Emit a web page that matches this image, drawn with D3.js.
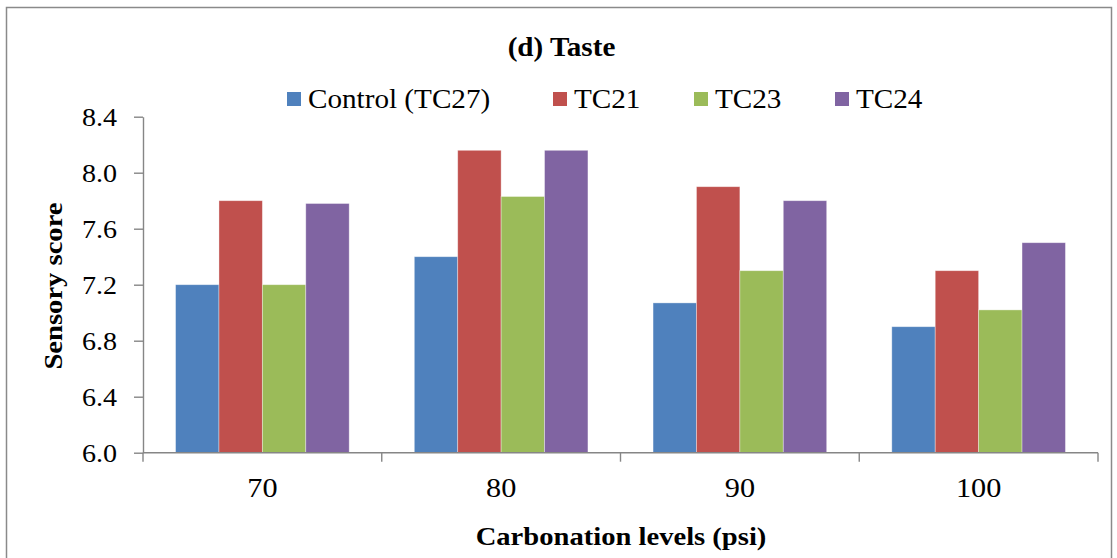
<!DOCTYPE html>
<html>
<head>
<meta charset="utf-8">
<script src="https://cdn.jsdelivr.net/npm/d3@7"></script>
<style>
  html, body { margin: 0; padding: 0; background: #ffffff; }
  svg { display: block; }
</style>
</head>
<body>
<svg id="chart" width="1117" height="558"></svg>
<script>
// Sensory taste scores at each carbonation level
const categories = ["70", "80", "90", "100"];
const seriesNames = ["Control (TC27)", "TC21", "TC23", "TC24"];
const control = [7.20, 7.40, 7.07, 6.90];
const tc21 = [7.80, 8.16, 7.90, 7.30];
const tc23 = [7.20, 7.83, 7.30, 7.02];
const tc24 = [7.78, 8.16, 7.80, 7.50];
const yTicks = [6.0, 6.4, 6.8, 7.2, 7.6, 8.0, 8.4];
const colors = ["#4F81BD", "#C0504D", "#9BBB59", "#8064A2"];

const seriesValues = [control, tc21, tc23, tc24];
const rows = categories.map((c, i) => ({
  cat: c,
  vals: seriesNames.map((s, j) => ({ series: s, value: seriesValues[j][i], color: colors[j] }))
}));

const FONT = '"Liberation Serif"';
const SX_REG = 1.08;        // horizontal glyph stretch, regular text
const SX_BOLD = 1.1;        // horizontal glyph stretch, bold titles
const axisColor = "#868686";
const svg = d3.select("#chart");

// outer frame
svg.append("rect")
  .attr("x", 6.5).attr("y", 7.5)
  .attr("width", 1105).attr("height", 570)
  .attr("fill", "none").attr("stroke", "#8a8a8a").attr("stroke-width", 1.5);

const plot = { left: 143, right: 1098, top: 116.7, bottom: 452.7 };

const x = d3.scaleBand().domain(categories).range([plot.left, plot.right]).padding(0);
const xInner = d3.scaleBand().domain(seriesNames).range([0, x.bandwidth()])
  .paddingInner(0).paddingOuter(0.75);
const y = d3.scaleLinear().domain([6.0, 8.4]).range([plot.bottom, plot.top]);

function stretchedText(parent, tx, ty, str, opts) {
  const sx = opts.bold ? SX_BOLD : SX_REG;
  const g = parent.append("g").attr("transform", `translate(${tx},${ty})`);
  return g.append("text")
    .attr("transform", (opts.rotate ? `rotate(${opts.rotate}) ` : "") + `scale(${sx},1)`)
    .attr("text-anchor", opts.anchor || "middle")
    .attr("fill", "#000")
    .style("font-family", FONT)
    .style("font-size", opts.size + "px")
    .style("font-weight", opts.bold ? "bold" : "normal")
    .text(str);
}

// bars
const groups = svg.append("g").selectAll("g.grp")
  .data(rows).join("g")
  .attr("class", "grp")
  .attr("transform", d => `translate(${x(d.cat)},0)`);

groups.selectAll("rect")
  .data(d => d.vals).join("rect")
  .attr("x", d => xInner(d.series))
  .attr("width", xInner.bandwidth())
  .attr("y", d => y(d.value))
  .attr("height", d => y(6.0) - y(d.value))
  .attr("fill", d => d.color)
  .attr("stroke", "rgba(255,255,255,0.45)")
  .attr("stroke-width", 0.8);

// y axis
const yAxis = svg.append("g")
  .attr("transform", `translate(${plot.left},0)`)
  .call(d3.axisLeft(y).tickValues(yTicks).tickFormat(d3.format(".1f")).tickSize(9).tickSizeOuter(0));
yAxis.select(".domain").attr("stroke", axisColor).attr("stroke-width", 1.4);
yAxis.selectAll(".tick line").attr("stroke", axisColor).attr("stroke-width", 1.4);
yAxis.selectAll(".tick text")
  .attr("x", 0).attr("y", 0).attr("dy", null)
  .attr("transform", `translate(-26,9) scale(${SX_REG},1)`)
  .style("font-size", "26px")
  .style("font-family", FONT)
  .attr("fill", "#000");

// x axis: ticks on the category boundaries, labels at the centres
const xAxisG = svg.append("g").attr("transform", `translate(0,${plot.bottom})`);
xAxisG.append("line")
  .attr("x1", plot.left).attr("x2", plot.right)
  .attr("stroke", axisColor).attr("stroke-width", 1.4);
const boundaries = categories.map(c => x(c)).concat([x(categories[categories.length - 1]) + x.bandwidth()]);
xAxisG.selectAll("line.tk").data(boundaries).join("line")
  .attr("class", "tk")
  .attr("x1", d => d).attr("x2", d => d)
  .attr("y1", 0).attr("y2", 9)
  .attr("stroke", axisColor).attr("stroke-width", 1.4);
categories.forEach(c => {
  stretchedText(svg, x(c) + x.bandwidth() / 2, plot.bottom + 44.5, c, { size: 28 });
});

// titles
stretchedText(svg, 561.5, 55.5, "(d) Taste", { size: 26.5, bold: true });
stretchedText(svg, 621, 545, "Carbonation levels (psi)", { size: 26, bold: true });
stretchedText(svg, 62, 286, "Sensory score", { size: 26, bold: true, rotate: -90 });

// legend
const legendX = [287, 553, 694, 835];
seriesNames.forEach((s, i) => {
  svg.append("rect")
    .attr("x", legendX[i]).attr("y", 92)
    .attr("width", 14).attr("height", 14)
    .attr("fill", colors[i]);
  stretchedText(svg, legendX[i] + 21, 107.5, s, { size: 27, anchor: "start" });
});
</script>
</body>
</html>
